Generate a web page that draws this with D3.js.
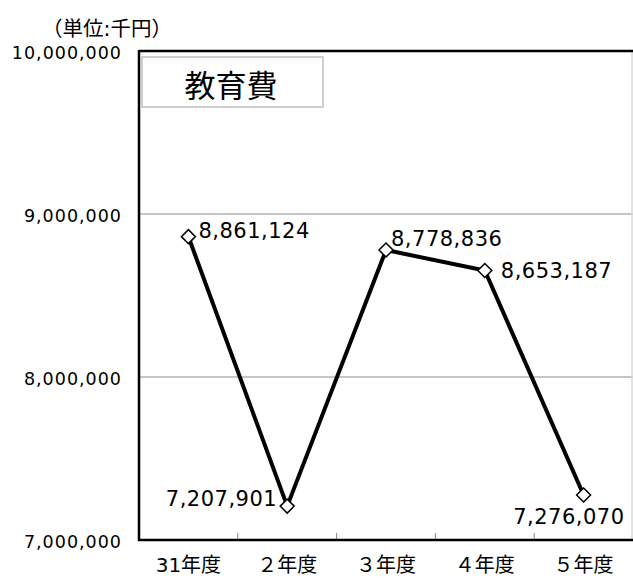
<!DOCTYPE html>
<html>
<head>
<meta charset="utf-8">
<script src="https://cdn.jsdelivr.net/npm/d3@7"></script>
<style>
  body { margin: 0; background: #fff; }
  text { font-family: "DejaVu Sans", "Noto Sans CJK JP", sans-serif; }
</style>
</head>
<body>
<div id="chart"></div>
<script>
// data
var categories = ["31年度", "２年度", "３年度", "４年度", "５年度"];
var values = [8861124, 7207901, 8778836, 8653187, 7276070];
var yTicks = [7000000, 8000000, 9000000, 10000000];
var title = "教育費";
var unitLabel = "（単位:千円）";

var width = 633, height = 578;
var margin = { top: 51, right: 0, bottom: 38, left: 139 };

var svg = d3.select("#chart").append("svg")
  .attr("width", width)
  .attr("height", height);

var x = d3.scaleBand()
  .domain(categories)
  .range([margin.left, width - margin.right]);

var y = d3.scaleLinear()
  .domain([7000000, 10000000])
  .range([height - margin.bottom, margin.top]);

var fmt = d3.format(",");

// gridlines
svg.append("g")
  .selectAll("line")
  .data(yTicks.slice(1, 3))
  .enter().append("line")
  .attr("x1", margin.left)
  .attr("x2", width - margin.right)
  .attr("y1", function(d) { return y(d); })
  .attr("y2", function(d) { return y(d); })
  .attr("stroke", "#8c8c8c")
  .attr("stroke-width", 1);

// plot frame: light right edge, black top
svg.append("line")
  .attr("x1", width - 1).attr("x2", width - 1)
  .attr("y1", y(10000000)).attr("y2", y(7000000))
  .attr("stroke", "#d8d8d8").attr("stroke-width", 1.5);
svg.append("line")
  .attr("x1", margin.left).attr("x2", width)
  .attr("y1", y(10000000)).attr("y2", y(10000000))
  .attr("stroke", "#000").attr("stroke-width", 2.5);

// y axis labels
svg.append("g")
  .selectAll("text")
  .data(yTicks)
  .enter().append("text")
  .attr("x", 122)
  .attr("y", function(d) { return y(d) + 8; })
  .attr("text-anchor", "end")
  .attr("font-size", 17.5)
  .attr("fill", "#000")
  .attr("letter-spacing", 1)
  .text(fmt);

// x axis tick marks (between categories)
svg.append("g")
  .selectAll("line")
  .data(categories.slice(1))
  .enter().append("line")
  .attr("x1", function(d) { return x(d); })
  .attr("x2", function(d) { return x(d); })
  .attr("y1", y(7000000))
  .attr("y2", y(7000000) - 7)
  .attr("stroke", "#888")
  .attr("stroke-width", 1);

// axes lines
svg.append("line")
  .attr("x1", margin.left).attr("x2", margin.left)
  .attr("y1", y(10000000) - 1).attr("y2", y(7000000) + 1)
  .attr("stroke", "#000").attr("stroke-width", 2.5);
svg.append("line")
  .attr("x1", margin.left - 1).attr("x2", width)
  .attr("y1", y(7000000)).attr("y2", y(7000000))
  .attr("stroke", "#000").attr("stroke-width", 2.5);

// x labels
svg.append("g")
  .selectAll("text")
  .data(categories)
  .enter().append("text")
  .attr("x", function(d) { return x(d) + x.bandwidth() / 2; })
  .attr("y", 572)
  .attr("text-anchor", "middle")
  .attr("font-size", 20)
  .attr("fill", "#000")
  .text(function(d) { return d; });

// unit label
svg.append("text")
  .attr("x", 42)
  .attr("y", 36)
  .attr("font-family", "Noto Sans CJK JP")
  .attr("font-size", 20.5)
  .attr("fill", "#000")
  .text(unitLabel);

// title box
svg.append("rect")
  .attr("x", 142).attr("y", 57)
  .attr("width", 181).attr("height", 50)
  .attr("fill", "#fff")
  .attr("stroke", "#bfbfbf").attr("stroke-width", 1.5);
svg.append("text")
  .attr("x", 231).attr("y", 97)
  .attr("text-anchor", "middle")
  .attr("font-family", "Noto Sans CJK JP")
  .attr("font-size", 31)
  .attr("fill", "#000")
  .text(title);

// line
var pts = categories.map(function(c, i) { return { c: c, v: values[i] }; });
var line = d3.line()
  .x(function(d) { return x(d.c) + x.bandwidth() / 2; })
  .y(function(d) { return y(d.v); });

svg.append("path")
  .datum(pts)
  .attr("d", line)
  .attr("fill", "none")
  .attr("stroke", "#000")
  .attr("stroke-width", 4)
  .attr("stroke-linejoin", "round");

// diamond markers
svg.append("g")
  .selectAll("path")
  .data(pts)
  .enter().append("path")
  .attr("d", d3.symbol().type(d3.symbolDiamond2).size(125))
  .attr("transform", function(d) {
    return "translate(" + (x(d.c) + x.bandwidth() / 2) + "," + y(d.v) + ")";
  })
  .attr("fill", "#fff")
  .attr("stroke", "#000")
  .attr("stroke-width", 1.5);

// data labels: offsets per point [dx, baseline dy, anchor]
var labelPos = [
  [10, 1, "start"],
  [-10, 0, "end"],
  [5, -4, "start"],
  [16, 7.5, "start"],
  [41, 29, "end"]
];

svg.append("g")
  .selectAll("text")
  .data(pts)
  .enter().append("text")
  .attr("x", function(d, i) { return x(d.c) + x.bandwidth() / 2 + labelPos[i][0]; })
  .attr("y", function(d, i) { return y(d.v) + labelPos[i][1]; })
  .attr("text-anchor", function(d, i) { return labelPos[i][2]; })
  .attr("font-size", 21)
  .attr("letter-spacing", 0.5)
  .attr("fill", "#000")
  .text(function(d) { return fmt(d.v); });
</script>
</body>
</html>
